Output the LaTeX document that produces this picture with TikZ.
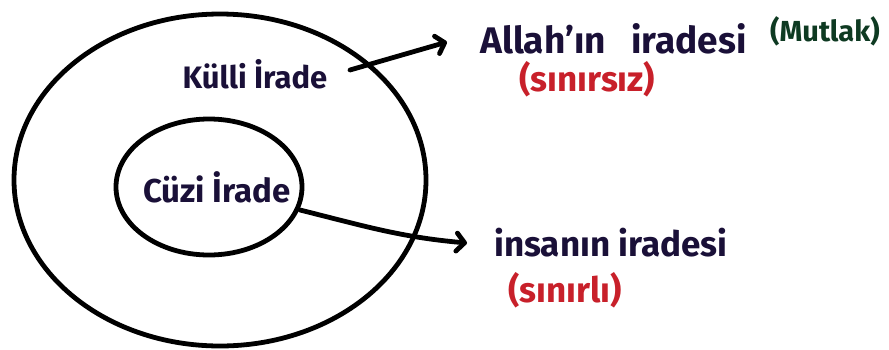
\documentclass[tikz,border=0pt]{standalone}
\usepackage{fontspec}
\setmainfont{Fira Sans}
\usetikzlibrary{shapes.geometric,arrows.meta}
\definecolor{ink}{HTML}{1A1038}
\definecolor{inkgreen}{HTML}{0E3A22}
\definecolor{inkred}{HTML}{C8202A}
\tikzset{
  ring/.style={draw=black, ellipse, line width=4.8pt, inner sep=0pt},
  label/.style={text=ink, inner sep=0pt},
  note/.style={inner sep=0pt},
  pointer/.style={line width=4.8pt, line cap=round, -{Straight Barb[length=8pt,width=18pt,line width=4.8pt,round]}}
}
\newcommand{\fs}[1]{\bfseries\fontsize{#1}{#1}\selectfont}
\begin{document}
\begin{tikzpicture}[x=1pt,y=-1pt]
\useasboundingbox[fill=white] (0,0) rectangle (889,349);
\node[ring, minimum width=412pt, minimum height=332pt] (outer) at (220,180) {};
\node[ring, minimum width=186pt, minimum height=136pt] (inner) at (209,187) {};
\node[label, font=\fs{31}] (kulli) at (255,74) {Külli İrade};
\node[label, font=\fs{33}] (cuzi) at (217,187) {Cüzi İrade};
\node[label, font=\fs{37}, anchor=west] (allah) at (480,39) {Allah'ın\hspace{0.45em} iradesi};
\node[note, text=inkgreen, font=\fs{29}, anchor=west] (mutlak) at (770,31) {(Mutlak)};
\node[note, text=inkred, font=\fs{35}, anchor=west] (sinirsiz) at (519,79) {(sınırsız)};
\node[label, font=\fs{35}, anchor=west] (insan) at (494,243) {insanın iradesi};
\node[note, text=inkred, font=\fs{35}, anchor=west] (sinirli) at (508,290) {(sınırlı)};
\coordinate (k0) at (350,70);
\coordinate (k1) at (447,42);
\coordinate (c0) at (300,210);
\coordinate (c1) at (467,243);
\draw[pointer] (k0) -- (k1);
\draw[pointer] (c0) to[out=-14,in=175] (c1);
\end{tikzpicture}
\end{document}
